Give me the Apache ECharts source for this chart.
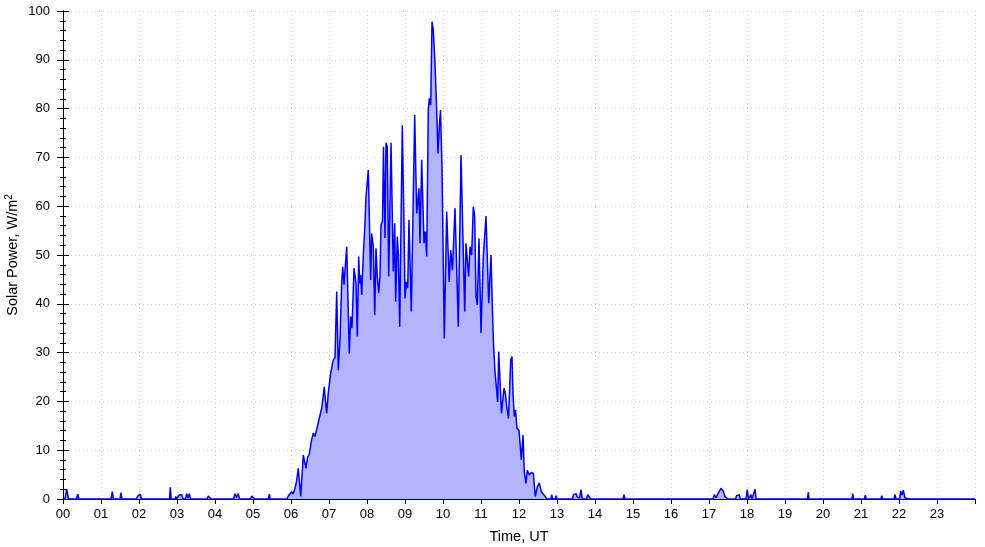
<!DOCTYPE html>
<html>
<head>
<meta charset="utf-8">
<script src="https://cdn.jsdelivr.net/npm/echarts@6/dist/echarts.min.js"></script>
<style>
html,body{margin:0;padding:0;background:#fff;}
#chart{width:985px;height:547px;}
</style>
</head>
<body>
<div id="chart"></div>
<script>
// Time in hours (UT)
const times = [
0,0.053,0.097,0.145,0.355,0.387,0.421,1.263,1.297,1.329,1.5,1.526,1.553,1.934,1.966,2.0,2.034,2.066,2.184,2.203,2.224,
2.803,2.824,2.847,2.947,2.966,2.987,3.026,3.053,3.087,3.124,3.158,3.224,3.255,3.289,3.324,3.355,3.632,3.65,3.671,
3.789,3.824,3.855,3.895,4.368,4.395,4.487,4.526,4.566,4.613,4.645,4.934,4.966,5.008,5.053,5.084,5.111,5.403,5.429,5.455,
5.895,5.929,5.974,6.018,6.053,6.105,6.145,6.192,6.255,6.324,6.395,6.434,6.482,6.539,6.587,6.632,6.676,6.742,6.808,6.876,
6.908,6.939,6.982,7.045,7.113,7.158,7.203,7.245,7.289,7.334,7.361,7.395,7.466,7.534,7.571,7.605,7.658,7.711,7.745,7.782,
7.808,7.834,7.861,7.903,7.947,7.974,8.034,8.097,8.124,8.166,8.203,8.237,8.271,8.308,8.342,8.368,8.408,8.434,8.474,8.5,
8.534,8.571,8.632,8.692,8.729,8.755,8.797,8.824,8.861,8.929,8.974,9.0,9.034,9.071,9.105,9.166,9.255,9.308,9.368,9.395,
9.439,9.466,9.5,9.534,9.571,9.613,9.639,9.676,9.711,9.745,9.789,9.834,9.868,9.903,9.934,9.974,10.034,10.097,10.163,10.203,
10.25,10.316,10.342,10.403,10.474,10.571,10.605,10.639,10.676,10.711,10.755,10.797,10.834,10.868,10.903,10.947,11.0,11.061,11.132,11.203,
11.263,11.324,11.368,11.413,11.439,11.466,11.5,11.539,11.571,11.605,11.639,11.676,11.724,11.782,11.816,11.842,11.876,11.908,11.947,12.0,
12.061,12.105,12.139,12.184,12.218,12.271,12.316,12.376,12.429,12.482,12.534,12.587,12.639,12.692,12.729,12.842,12.861,12.882,12.955,12.974,
13.0,13.276,13.297,13.316,13.408,13.434,13.474,13.5,13.534,13.592,13.632,13.666,13.776,13.808,13.85,13.882,14.737,14.763,14.789,
17.105,17.139,17.184,17.245,17.316,17.376,17.421,17.466,17.5,17.697,17.729,17.763,17.797,17.829,17.974,18.008,18.039,18.079,18.105,18.132,
18.179,18.211,18.242,19.592,19.613,19.632,20.763,20.782,20.808,21.092,21.113,21.137,21.526,21.545,21.566,21.868,21.895,21.921,
22.013,22.045,22.079,22.113,22.158,22.203,22.237,24
];
// Solar power, W/m2
const power = [
0,0,2.0,0,0,1.0,0,0,1.5,0,0,1.3,0,0,0.6,0.2,1.0,0,0,0.3,0,
0,2.4,0,0,0.5,0,0,0.8,0.4,0.9,0,0,1.1,0.2,1.1,0,0,0.4,0,
0,0.6,0.5,0,0,0.4,0,1.1,0.3,1.1,0,0,0.6,1.0,0,0.3,0,0,1.0,0,
0,0.6,0.3,1.5,1.0,2.2,3.6,6.3,0.5,9.0,6.3,8.5,9.2,12,13.5,12.8,13,16.5,18.6,23,
20,17.6,21.8,25.8,28.5,29,42.5,26.4,32.6,44.3,47.6,43.9,51.7,29.8,37.4,35,47.3,44.2,33.3,49.7,
44.2,45.9,41.8,50,56.5,62,67.4,44.9,54.4,51.7,37.7,51.4,45.6,42.2,45.6,56.1,57,72.2,53.5,73,
72.2,45.6,73,46.6,56.5,40.4,53.8,50.3,35.3,76.6,55.8,41.1,44.5,43.2,57.2,38.4,78.7,58.5,63.7,52.4,
69.5,69.8,52.4,54.8,49.7,79.7,82.1,80.7,97.8,96.1,89.3,79.7,70.8,76.3,79.7,68.1,32.9,58.9,44.5,51,
46.9,59.6,59.6,35.3,70.5,38.4,52.4,49,45.6,51.7,50,59.9,57.9,41.5,39.8,53.4,34,49.7,58,40.1,
50,32.6,26.1,25.8,19.9,30.2,29.9,17.6,17.6,22.7,21.7,19,16.5,28.5,29.2,21.7,16.9,18.2,14.5,14.1,
8,13.1,5.6,3.2,5.9,4.9,5.4,5.3,0.5,2.5,3.3,1.5,1.8,0.5,0,0,0.9,0,0,0.7,
0,0,0.2,0,0,0.9,0.5,1.1,0.4,0.2,1.9,0,0,0.9,0.7,0,0,0.9,0,
0,0.9,0.3,1.2,2.2,1.6,0.5,0.7,0,0,0.7,0.3,0.9,0,0,1.9,0,0.2,0.9,0,
0,2.0,0,0,1.4,0,0,1.1,0,0,0.8,0,0,0.7,0,0,0.9,0,
0,1.6,0.8,1.8,0.2,0.5,0,0
];
const hourTicks = ['00','01','02','03','04','05','06','07','08','09','10','11','12','13','14','15','16','17','18','19','20','21','22','23'];

const seriesData = times.map((t, i) => [t, power[i]]);
const chart = echarts.init(document.getElementById('chart'), null, {renderer: 'canvas'});
const font = 'Liberation Sans, Arial, sans-serif';
const gridLine = {show: true, lineStyle: {color: '#cfcfcf', type: [1, 3], width: 1}};
chart.setOption({
  animation: false,
  backgroundColor: '#fff',
  grid: {left: 63, right: 10, top: 11, bottom: 48, containLabel: false, outerBoundsMode: 'none'},
  xAxis: [{
    type: 'value', min: 0, max: 24, interval: 1,
    name: 'Time, UT', nameLocation: 'middle', nameGap: 30, nameMoveOverlap: false,
    nameTextStyle: {fontFamily: font, fontSize: 14.5, color: '#000'},
    axisLine: {show: true, onZero: false, lineStyle: {color: '#000', width: 1}},
    axisTick: {show: true, length: 5, lineStyle: {color: '#000'}},
    axisLabel: {fontFamily: font, fontSize: 13, color: '#000', margin: 9,
      formatter: v => (v < 24 ? hourTicks[Math.round(v)] : '')},
    splitLine: gridLine
  }, {
    type: 'value', min: 0, max: 24, interval: 1, position: 'top',
    axisLine: {show: true, lineStyle: {color: '#000', width: 1}},
    axisTick: {show: false}, axisLabel: {show: false}, splitLine: {show: false}
  }],
  yAxis: [{
    type: 'value', min: 0, max: 100, interval: 10,
    name: 'Solar Power, W/m{sup|2}', nameLocation: 'middle', nameGap: 42, nameMoveOverlap: false,
    nameTextStyle: {fontFamily: font, fontSize: 14.5, color: '#000',
      rich: {sup: {fontFamily: font, fontSize: 10, color: '#000', verticalAlign: 'top', padding: [0, 0, 7, 0]}}},
    axisLine: {show: true, lineStyle: {color: '#000', width: 1}},
    axisTick: {show: true, length: 6, lineStyle: {color: '#000'}},
    minorTick: {show: true, splitNumber: 5, length: 3, lineStyle: {color: '#000'}},
    axisLabel: {fontFamily: font, fontSize: 13, color: '#000', margin: 13},
    splitLine: gridLine
  }, {
    type: 'value', min: 0, max: 100, interval: 10, position: 'right',
    axisLine: {show: true, lineStyle: {color: '#000', width: 1}},
    axisTick: {show: true, length: 6, lineStyle: {color: '#000'}},
    minorTick: {show: true, splitNumber: 5, length: 3, lineStyle: {color: '#000'}},
    axisLabel: {show: false}, splitLine: {show: false}
  }],
  series: [{
    type: 'line', xAxisIndex: 0, yAxisIndex: 0,
    data: seriesData, showSymbol: false, symbol: 'none',
    lineStyle: {color: '#0000ff', width: 1.5},
    areaStyle: {color: '#b3b3ff', opacity: 1},
    z: 3
  }]
});
</script>
</body>
</html>
